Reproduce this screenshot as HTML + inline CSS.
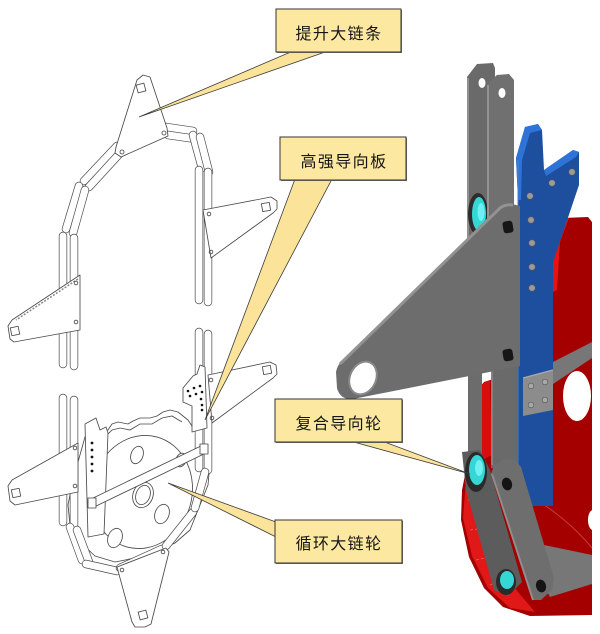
<!DOCTYPE html>
<html>
<head>
<meta charset="utf-8">
<style>
html,body{margin:0;padding:0;background:#fff;}
body{width:600px;height:634px;overflow:hidden;position:relative;}
svg{position:absolute;left:0;top:0;}
.o{stroke:#4a4a4a;stroke-width:8.4;stroke-linecap:round;fill:none}
.i{stroke:#fff;stroke-width:7;stroke-linecap:round;fill:none}
.ln{fill:#fff;stroke:#4a4a4a;stroke-width:0.85;stroke-linejoin:round}
.tl{fill:none;stroke:#4a4a4a;stroke-width:0.85}
.lbl{font-family:"Liberation Sans","Noto Sans CJK SC","WenQuanYi Zen Hei",sans-serif;font-size:16px;fill:#151515;letter-spacing:1.4px}
</style>
</head>
<body>
<svg width="600" height="634" viewBox="0 0 600 634" xmlns="http://www.w3.org/2000/svg">

<!-- ================= LEFT LINE DRAWING ================= -->
<line class="o" x1="166" y1="127" x2="193" y2="131"/><line class="i" x1="166" y1="127" x2="193" y2="131"/>
<line class="o" x1="168" y1="135" x2="196" y2="139"/><line class="i" x1="168" y1="135" x2="196" y2="139"/>
<line class="o" x1="193" y1="135" x2="202" y2="168"/><line class="i" x1="193" y1="135" x2="202" y2="168"/>
<line class="o" x1="200" y1="137" x2="209" y2="172"/><line class="i" x1="200" y1="137" x2="209" y2="172"/>
<line class="o" x1="199" y1="170" x2="199" y2="300"/><line class="i" x1="199" y1="170" x2="199" y2="300"/>
<line class="o" x1="208" y1="172" x2="208" y2="302"/><line class="i" x1="208" y1="172" x2="208" y2="302"/>
<polygon class="ln" points="203,210 271,197 277,201 277,209 273,213 211,258"/>
<rect x="262" y="203" width="8" height="8" transform="rotate(-10 266 207)" class="ln"/>
<circle cx="209" cy="214" r="1.8" class="tl"/><circle cx="211" cy="252" r="1.8" class="tl"/>

<line class="o" x1="117" y1="146" x2="84" y2="181"/><line class="i" x1="117" y1="146" x2="84" y2="181"/>
<line class="o" x1="122" y1="151" x2="89" y2="187"/><line class="i" x1="122" y1="151" x2="89" y2="187"/>
<line class="o" x1="79" y1="186" x2="66" y2="229"/><line class="i" x1="79" y1="186" x2="66" y2="229"/>
<line class="o" x1="85" y1="190" x2="73" y2="233"/><line class="i" x1="85" y1="190" x2="73" y2="233"/>
<line class="o" x1="63" y1="236" x2="63" y2="364"/><line class="i" x1="63" y1="236" x2="63" y2="364"/>
<line class="o" x1="74" y1="238" x2="74" y2="366"/><line class="i" x1="74" y1="238" x2="74" y2="366"/>
<polygon class="ln" points="80,275 12,320 8,326 10,339 14,342 80,330"/>
<line x1="78" y1="279" x2="16" y2="320" stroke="#888" stroke-width="1.5" stroke-dasharray="2,1.5"/>
<rect x="11" y="327" width="8" height="8" transform="rotate(-12 15 331)" class="ln"/>
<circle cx="76" cy="283" r="1.8" class="tl"/><circle cx="76" cy="322" r="1.8" class="tl"/>

<polygon class="ln" points="137,80 143,75 150,77 167,128 168,136 121,157 115,153 116,147"/>
<rect x="137" y="84" width="8" height="8" transform="rotate(-15 141 88)" class="ln"/>
<circle cx="122" cy="152" r="2" class="tl"/><circle cx="164" cy="133" r="2" class="tl"/>

<path class="ln" d="M85,437 L88,428 L100,432 L108,430 L112,424 L118,422 L128,424 L133,421 L140,418 L150,418 L157,416 L163,412 L170,410 L178,412 L183,416 L188,420 L196,432 L204,446 L210,462 L208,485 L200,505 L190,530 L175,543 L160,550 L135,558 L115,562 L95,556 L80,542 L70,525 L68,505 L72,485 L78,462 Z"/>
<path class="tl" d="M90,434 L98,438 L106,436 L112,430 L120,428 L130,430 L140,424 L152,424 L162,418 L172,416 L182,422" stroke="#777"/>
<ellipse cx="142" cy="492" rx="50" ry="57" transform="rotate(15 142 492)" class="ln"/>
<ellipse cx="137" cy="455" rx="6" ry="9" transform="rotate(20 137 455)" class="ln"/>
<ellipse cx="143" cy="495" rx="10" ry="13" transform="rotate(20 143 495)" class="ln"/>
<ellipse cx="143" cy="495" rx="7" ry="10" transform="rotate(20 143 495)" class="tl"/>
<ellipse cx="162" cy="514" rx="7" ry="10" transform="rotate(20 162 514)" class="ln"/>
<ellipse cx="115" cy="538" rx="7" ry="10" transform="rotate(20 115 538)" class="ln"/>
<ellipse cx="181" cy="460" rx="5" ry="7" transform="rotate(20 181 460)" class="ln"/>

<line class="o" x1="199" y1="332" x2="199" y2="468"/><line class="i" x1="199" y1="332" x2="199" y2="468"/>
<line class="o" x1="208" y1="334" x2="208" y2="470"/><line class="i" x1="208" y1="334" x2="208" y2="470"/>
<polygon class="ln" points="208,375 270,362 276,365 277,374 273,378 212,423"/>
<rect x="263" y="366" width="8" height="8" transform="rotate(-10 267 370)" class="ln"/>
<circle cx="211" cy="380" r="1.8" class="tl"/><circle cx="212" cy="418" r="1.8" class="tl"/>
<polygon class="ln" points="200,365 205,367 207,428 192,432 192,406 183,402 183,388 193,376 197,374"/>
<g fill="#111">
<circle cx="188" cy="391" r="1.3"/><circle cx="194" cy="388" r="1.3"/><circle cx="200" cy="386" r="1.3"/>
<circle cx="190" cy="396" r="1.3"/><circle cx="196" cy="394" r="1.3"/><circle cx="202" cy="392" r="1.3"/>
<circle cx="201" cy="399" r="1.3"/><circle cx="202" cy="405" r="1.3"/><circle cx="202" cy="410" r="1.3"/>
</g>

<line class="o" x1="63" y1="398" x2="63" y2="522"/><line class="i" x1="63" y1="398" x2="63" y2="522"/>
<line class="o" x1="74" y1="400" x2="74" y2="525"/><line class="i" x1="74" y1="400" x2="74" y2="525"/>
<polygon class="ln" points="78,443 12,480 8,486 10,501 15,505 78,492"/>
<rect x="12" y="489" width="8" height="8" transform="rotate(-12 16 493)" class="ln"/>
<circle cx="75" cy="448" r="1.8" class="tl"/><circle cx="75" cy="486" r="1.8" class="tl"/>
<polygon class="ln" points="85,424 96,418 100,430 106,427 108,433 104,534 88,537"/>
<g fill="#111">
<circle cx="92" cy="443" r="1.4"/><circle cx="92" cy="450" r="1.4"/><circle cx="92" cy="457" r="1.4"/><circle cx="92" cy="464" r="1.4"/><circle cx="92" cy="471" r="1.4"/>
</g>

<polygon class="ln" points="89,500 205,444 208,452 92,508"/>
<rect x="88" y="498" width="8" height="10" class="ln"/>
<rect x="200" y="444" width="8" height="10" class="ln"/>

<line class="o" x1="70" y1="527" x2="82" y2="560"/><line class="i" x1="70" y1="527" x2="82" y2="560"/>
<line class="o" x1="77" y1="530" x2="89" y2="562"/><line class="i" x1="77" y1="530" x2="89" y2="562"/>
<line class="o" x1="86" y1="564" x2="117" y2="571"/><line class="i" x1="86" y1="564" x2="117" y2="571"/>
<line class="o" x1="120" y1="568" x2="162" y2="549"/><line class="i" x1="120" y1="568" x2="162" y2="549"/>
<line class="o" x1="166" y1="546" x2="193" y2="512"/><line class="i" x1="166" y1="546" x2="193" y2="512"/>
<line class="o" x1="195" y1="508" x2="205" y2="472"/><line class="i" x1="195" y1="508" x2="205" y2="472"/>
<polygon class="ln" points="117,567 166,548 169,552 151,624 145,627 135,627 132,622"/>
<rect x="139" y="611" width="8" height="8" transform="rotate(-15 143 615)" class="ln"/>
<circle cx="122" cy="570" r="1.8" class="tl"/><circle cx="163" cy="552" r="1.8" class="tl"/>

<!-- ================= RIGHT 3D MODEL ================= -->
<path fill="#a50000" d="M553,236 L563,218 L588,217 L592,222 L592,615 L530,616 L503,607 L484,588 L469,557 L461,520 L462,490 L467,465 L471,440 L478,390 L484,382 L553,360 Z"/>
<polygon fill="#e41414" points="553,236 563,218 569,218 560,242 557,290 553,292"/>
<polygon fill="#d80d0d" points="480,385 490,380 492,455 482,460"/>
<path fill="#e01818" d="M467,468 L478,462 L490,500 L498,545 L512,585 L535,612 L510,608 L488,588 L472,556 L463,518 Z"/>
<path d="M468,500 L480,500 M470,530 L486,528 M476,560 L494,556 M490,585 L506,578" stroke="#f06060" stroke-width="0.8" stroke-dasharray="3,2"/>
<path d="M520,490 Q565,515 592,548" stroke="#cc3a3a" stroke-width="1" fill="none"/>
<ellipse cx="577" cy="396" rx="14" ry="25" fill="#fff"/>
<ellipse cx="593" cy="520" rx="5" ry="10" fill="#fff"/>

<path fill="#6a6a6a" d="M467,77 L477,64 L493,63 L495,68 L495,240 L467,240 Z"/>
<line x1="468" y1="78" x2="468" y2="238" stroke="#909090" stroke-width="2"/>
<ellipse cx="482" cy="83" rx="3.5" ry="5" fill="#fff"/>
<ellipse cx="478" cy="214" rx="10" ry="21" fill="#2c2c2c"/>
<ellipse cx="479" cy="214" rx="7" ry="17" fill="#35d6d6"/>
<ellipse cx="481" cy="212" rx="3.5" ry="9" fill="#6ff0f0"/>
<path fill="#707070" d="M487,84 L497,75 L509,74 L514,80 L514,240 L487,240 Z"/>
<line x1="488" y1="85" x2="488" y2="238" stroke="#939393" stroke-width="2"/>
<ellipse cx="502" cy="93" rx="3.5" ry="5" fill="#fff"/>

<path fill="#1e4f9e" d="M516,158 L525,127 L538,124 L542,130 L544,170 L573,150 L579,152 L579,185 L553,262 L553,506 L518,506 L518,200 Z"/>
<polygon fill="#2e74d8" points="516,158 525,127 538,124 542,130 530,133 522,160 521,200 518,200"/>
<polygon fill="#2e74d8" points="544,170 573,150 579,152 576,157 546,176"/>
<line x1="518" y1="160" x2="518" y2="505" stroke="#4a82d0" stroke-width="1"/>
<g fill="#9a9a9a" stroke="#555" stroke-width="0.6">
<circle cx="530" cy="196" r="3.3"/><circle cx="531" cy="220" r="3.3"/><circle cx="532" cy="243" r="3.3"/><circle cx="532" cy="267" r="3.3"/><circle cx="532" cy="288" r="3.3"/>
<circle cx="552" cy="183" r="3.3"/><circle cx="572" cy="172" r="3.3"/>
</g>

<rect x="468" y="365" width="14" height="95" fill="#6c6c6c"/>
<rect x="491" y="360" width="27" height="108" fill="#6a6a6a"/>
<line x1="492" y1="365" x2="492" y2="465" stroke="#8a8a8a" stroke-width="1.5"/>

<path fill="#6d6d6d" d="M341,362 L500,207 Q505,203 512,204 L520,206 L520,366 L353,399 Q340,400 337,388 L336,372 Q337,366 341,362 Z"/>
<path d="M340,364 L500,208 Q505,204 513,205" stroke="#929292" stroke-width="3" fill="none"/>
<ellipse cx="363" cy="378" rx="14" ry="18" transform="rotate(25 363 378)" fill="#8a8a8a"/>
<ellipse cx="363" cy="378" rx="12" ry="16" transform="rotate(25 363 378)" fill="#fff"/>
<rect x="503" y="221" width="10" height="12" rx="3" fill="#161616" transform="rotate(-10 508 227)"/>
<rect x="503" y="349" width="10" height="12" rx="3" fill="#161616" transform="rotate(-10 508 355)"/>

<polygon fill="#777" points="553,362 592,342 592,358 553,384"/>
<polygon fill="#8c8c8c" points="523,378 553,370 553,410 523,416"/>
<line x1="523" y1="378" x2="553" y2="370" stroke="#aaa" stroke-width="1.2"/>
<g fill="#a8a8a8" stroke="#555" stroke-width="0.6">
<circle cx="531" cy="386" r="2.8"/><circle cx="545" cy="382" r="2.8"/><circle cx="531" cy="405" r="2.8"/><circle cx="545" cy="400" r="2.8"/>
</g>

<polygon fill="#777" points="520,540 592,555 592,584 550,597"/>

<polygon fill="#5c5c5c" points="462,452 480,450 490,470 522,582 508,596 494,590 466,490"/>
<ellipse cx="476" cy="472" rx="11" ry="20" fill="#2a2a2a"/>
<ellipse cx="477" cy="470" rx="8" ry="15" fill="#35d6d6"/>
<ellipse cx="479" cy="468" rx="4" ry="8" fill="#70f0f0"/>
<path fill="#6e6e6e" d="M491,474 L494,465 L504,459 L515,460 L521,467 L554,578 L552,590 L541,600 L533,600 Z"/>
<line x1="492" y1="474" x2="533" y2="600" stroke="#8e8e8e" stroke-width="2"/>
<ellipse cx="507" cy="484" rx="5" ry="6.5" fill="#141414" transform="rotate(-15 507 484)"/>
<ellipse cx="541" cy="586" rx="5" ry="6.5" fill="#141414" transform="rotate(-15 541 586)"/>
<ellipse cx="506" cy="582" rx="10" ry="13" fill="#2a2a2a"/>
<ellipse cx="507" cy="580" rx="7" ry="9" fill="#35d6d6"/>

<!-- ================= CALLOUTS ================= -->
<polygon points="293,51 328,51 139,117" fill="#fbe49a" stroke="#3a3a3a" stroke-width="0.8"/>
<polygon points="295,179 332,179 205,420" fill="#fbe49a" stroke="#3a3a3a" stroke-width="0.8"/>
<polygon points="350,441 382,441 470,474" fill="#fbe49a" stroke="#3a3a3a" stroke-width="0.8"/>
<polygon points="276,522 276,537 168,483" fill="#fbe49a" stroke="#3a3a3a" stroke-width="0.8"/>

<rect x="277" y="10" width="125" height="43" fill="#777"/>
<rect x="276" y="9" width="125" height="43" fill="#fde8a2" stroke="#333" stroke-width="1"/>
<text class="lbl" x="339" y="39" text-anchor="middle">提升大链条</text>

<rect x="281" y="138" width="126" height="43" fill="#777"/>
<rect x="280" y="137" width="126" height="43" fill="#fde8a2" stroke="#333" stroke-width="1"/>
<text class="lbl" x="344" y="167" text-anchor="middle">高强导向板</text>

<rect x="276" y="400" width="127" height="43" fill="#777"/>
<rect x="275" y="399" width="127" height="43" fill="#fde8a2" stroke="#333" stroke-width="1"/>
<text class="lbl" x="339" y="429" text-anchor="middle">复合导向轮</text>

<rect x="276" y="521" width="127" height="43" fill="#777"/>
<rect x="275" y="520" width="127" height="43" fill="#fde8a2" stroke="#333" stroke-width="1"/>
<text class="lbl" x="339" y="549" text-anchor="middle">循环大链轮</text>
</svg>
</body>
</html>
